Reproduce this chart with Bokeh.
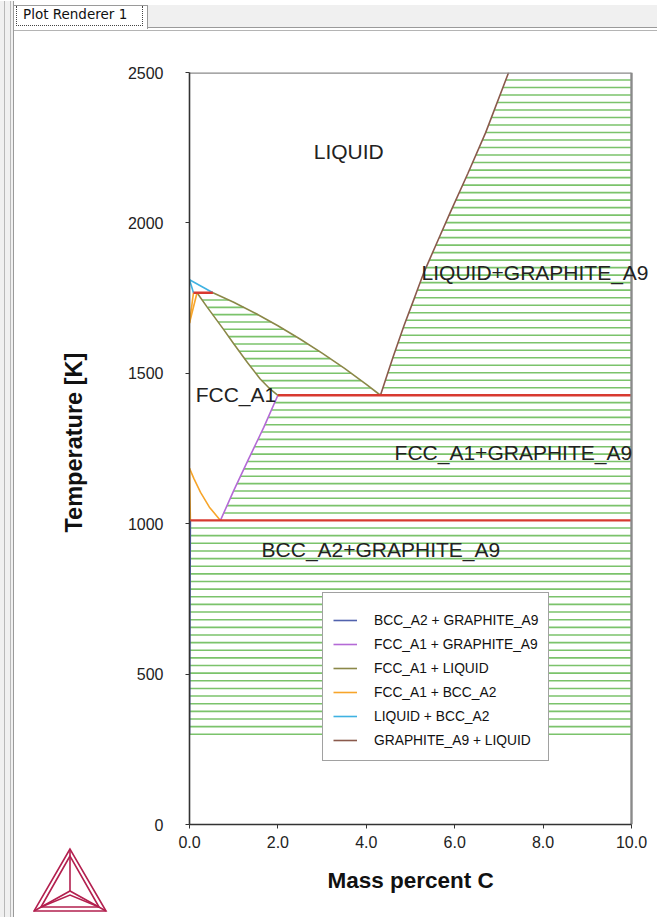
import numpy as np
from bokeh.plotting import figure
from bokeh.models import (Range1d, FixedTicker, PrintfTickFormatter, Label,
                          Legend, LegendItem, Div, Title)
from bokeh.layouts import column
from bokeh.embed import file_html
from bokeh.resources import INLINE

# ---------------- data (mass percent C, temperature in K) ----------------
x_ticks = [0, 2, 4, 6, 8, 10]
y_ticks = [0, 500, 1000, 1500, 2000, 2500]
x_min, x_max = 0, 10
T_axis_min, T_axis_max = 0, 2500

# FCC_A1 + LIQUID (liquidus and solidus)
fcc_liq_liquidus_x = [0.53, 1.0, 1.5, 2.0, 2.5, 3.0, 3.5, 4.0, 4.32]
fcc_liq_liquidus_T = [1768, 1736, 1699, 1658, 1614, 1567, 1517, 1463, 1427]
fcc_liq_solidus_x = [0.17, 0.4, 0.77, 1.0, 1.31, 1.6, 1.8, 2.0]
fcc_liq_solidus_T = [1768, 1720, 1646, 1598, 1536, 1481, 1451, 1427]
# GRAPHITE_A9 + LIQUID
gra_liq_x = [4.32, 4.6, 4.85, 5.1, 5.3, 5.6, 5.9, 6.3, 6.7, 7.22]
gra_liq_T = [1427, 1552, 1657, 1755, 1834, 1935, 2035, 2165, 2300, 2500]
# FCC_A1 + GRAPHITE_A9
fcc_gra_x = [0.70, 1.0, 1.33, 1.68, 2.0]
fcc_gra_T = [1011, 1110, 1213, 1320, 1427]
# BCC_A2 + GRAPHITE_A9
bcc_gra_x = [0.02, 0.01, 0.0]
bcc_gra_T = [1011, 700, 300]
# FCC_A1 + BCC_A2 (alpha/gamma and delta/gamma)
fcc_bcc_low_g_x = [0.0, 0.1, 0.25, 0.45, 0.70]
fcc_bcc_low_g_T = [1184, 1150, 1104, 1055, 1011]
fcc_bcc_low_a_x = [0.0, 0.01, 0.02]
fcc_bcc_low_a_T = [1184, 1100, 1011]
fcc_bcc_high_d_x = [0.0, 0.09]
fcc_bcc_high_d_T = [1667, 1768]
fcc_bcc_high_g_x = [0.0, 0.17]
fcc_bcc_high_g_T = [1667, 1768]
# LIQUID + BCC_A2
liq_bcc_l_x = [0.0, 0.53]
liq_bcc_l_T = [1811, 1768]
liq_bcc_d_x = [0.0, 0.09]
liq_bcc_d_T = [1811, 1768]
# invariant lines (peritectic, eutectic, eutectoid)
inv_x0 = [0.09, 2.0, 0.02]
inv_x1 = [0.53, 10.0, 10.0]
inv_T = [1768, 1427, 1011]
T_min = 300

legend_labels = ["BCC_A2 + GRAPHITE_A9", "FCC_A1 + GRAPHITE_A9", "FCC_A1 + LIQUID",
                 "FCC_A1 + BCC_A2", "LIQUID + BCC_A2", "GRAPHITE_A9 + LIQUID"]
region_labels = ["LIQUID", "LIQUID+GRAPHITE_A9", "FCC_A1", "FCC_A1+GRAPHITE_A9",
                 "BCC_A2+GRAPHITE_A9"]
region_x = [2.81, 5.25, 0.14, 4.64, 1.63]
region_T = [2237, 1835, 1430, 1237, 914]

# ---------------- styles ----------------
C_BLUE = "#5162ad"
C_PURPLE = "#b46ad6"
C_OLIVE = "#8b8848"
C_ORANGE = "#f7a52a"
C_CYAN = "#3fb2e2"
C_BROWN = "#8a5a4c"
C_RED = "#d83a30"
C_TIE = "#64b951"
C_FRAME = "#8a8a8a"
FONT = "Liberation Sans"
PX_PER_UNIT = 44.2          # frame scale in x (screen px per mass percent)
RIGHT_EXTRA = 21            # extra frame room right of x=10 (for the overflowing label)
FIG_W = 652


def bound(x, T):
    order = np.argsort(T)
    return lambda t: np.interp(t, np.asarray(T)[order], np.asarray(x)[order])


def tie_lines(levels, left, right):
    xs, ys = [], []
    for t in levels:
        xs.append([float(left(t)), float(right(t))])
        ys.append([float(t), float(t)])
    return xs, ys


right_edge = lambda t: float(x_max)
tx, ty = [], []
for lv, lf, rf in [
    (np.linspace(T_min, inv_T[2], 29)[:-1], bound(bcc_gra_x, bcc_gra_T), right_edge),
    (np.linspace(inv_T[2], inv_T[1], 18)[1:-1], bound(fcc_gra_x, fcc_gra_T), right_edge),
    (np.linspace(inv_T[1], T_axis_max, 44)[1:-1], bound(gra_liq_x, gra_liq_T), right_edge),
    (np.linspace(inv_T[1], inv_T[0], 15)[1:-1], bound(fcc_liq_solidus_x, fcc_liq_solidus_T),
     bound(fcc_liq_liquidus_x, fcc_liq_liquidus_T)),
]:
    a, b = tie_lines(lv, lf, rf)
    tx += a
    ty += b

# ---------------- figure ----------------
p = figure(width=FIG_W, height=874, output_backend="svg", toolbar_location=None,
           x_range=Range1d(x_min, x_max + RIGHT_EXTRA / PX_PER_UNIT),
           y_range=Range1d(T_axis_min, T_axis_max),
           min_border_left=189, min_border_right=0, min_border_top=36,
           min_border_bottom=86, background_fill_color="white",
           border_fill_color="white")
p.grid.visible = False
p.outline_line_color = None

p.multi_line(tx, ty, line_color=C_TIE, line_width=1.6, line_alpha=0.85)

r_blue = p.multi_line([bcc_gra_x], [bcc_gra_T], line_color=C_BLUE, line_width=1.6)
r_purple = p.multi_line([fcc_gra_x], [fcc_gra_T], line_color=C_PURPLE, line_width=1.6)
r_olive = p.multi_line([fcc_liq_liquidus_x, fcc_liq_solidus_x],
                       [fcc_liq_liquidus_T, fcc_liq_solidus_T], line_color=C_OLIVE, line_width=1.6)
r_orange = p.multi_line([fcc_bcc_low_g_x, fcc_bcc_low_a_x, fcc_bcc_high_d_x, fcc_bcc_high_g_x],
                        [fcc_bcc_low_g_T, fcc_bcc_low_a_T, fcc_bcc_high_d_T, fcc_bcc_high_g_T],
                        line_color=C_ORANGE, line_width=1.6)
r_cyan = p.multi_line([liq_bcc_l_x, liq_bcc_d_x], [liq_bcc_l_T, liq_bcc_d_T],
                      line_color=C_CYAN, line_width=1.6)
r_brown = p.multi_line([gra_liq_x], [gra_liq_T], line_color=C_BROWN, line_width=1.6)
p.segment(x0=inv_x0, y0=inv_T, x1=inv_x1, y1=inv_T, line_color=C_RED, line_width=2.4)

# plot box (top and right edges)
p.segment(x0=[x_min, x_max], y0=[T_axis_max, T_axis_min], x1=[x_max, x_max],
          y1=[T_axis_max, T_axis_max], line_color=C_FRAME, line_width=2.4)

# axes
p.xaxis.ticker = FixedTicker(ticks=x_ticks)
p.xaxis.formatter = PrintfTickFormatter(format="%.1f")
p.xaxis.bounds = (x_min, x_max)
p.yaxis.ticker = FixedTicker(ticks=y_ticks)
for ax in (p.xaxis, p.yaxis):
    ax.axis_line_color = "#333333"
    ax.axis_line_width = 1.6
    ax.major_tick_line_color = "#333333"
    ax.major_tick_out = 4
    ax.major_tick_in = 0
    ax.minor_tick_out = 0
    ax.minor_tick_in = 0
    ax.major_label_text_font = FONT
    ax.major_label_text_font_size = "16px"
    ax.major_label_text_color = "#222222"
p.xaxis.major_label_standoff = 7
p.yaxis.major_label_standoff = 22

# axis titles, placed as in the reference
p.add_layout(Title(text="Mass percent C", align="left", offset=138, standoff=31,
                   text_font=FONT, text_font_size="22.5px", text_font_style="bold",
                   text_color="#111111"), "below")
p.add_layout(Title(text="Temperature [K]", align="left", offset=292, standoff=76,
                   text_font=FONT, text_font_size="23.5px", text_font_style="bold",
                   text_color="#111111"), "left")

# region labels
for txt, xx, tt in zip(region_labels, region_x, region_T):
    p.add_layout(Label(x=xx, y=tt, text=txt, text_font=FONT, text_font_size="21px",
                       text_color="#222222", text_baseline="middle", text_align="left"))

# legend
items = [LegendItem(label=lab, renderers=[r]) for lab, r in
         zip(legend_labels, [r_blue, r_purple, r_olive, r_orange, r_cyan, r_brown])]
leg = Legend(items=items, location=(133, 63), title=" ", title_text_font_size="7px",
             title_standoff=0, border_line_color="#444444", border_line_width=1.5,
             background_fill_color="white", background_fill_alpha=1.0,
             label_text_font=FONT, label_text_font_size="13.8px", label_text_color="#111111",
             glyph_width=24, glyph_height=20, label_height=20, spacing=4, padding=10,
             label_standoff=17, margin=0)
p.add_layout(leg, "center")

# window header (tab), left window edge and logo
logo_svg = (
    '<svg style="position:absolute;left:28px;top:842px;" width="76" height="68">'
    '<g fill="none" stroke="#b3204f" stroke-width="1.6">'
    '<polygon points="37,2 1,64 73,64"/>'
    '<polygon points="37,9 8,60 66,60"/>'
    '<polyline points="37,2 37,44"/>'
    '<polyline points="1,64 37,44 73,64"/>'
    '<polyline points="8,60 37,48 66,60"/>'
    '</g></svg>'
)
left_edge = (
    '<div style="position:absolute;left:-5px;top:-4px;width:14px;height:917px;'
    'background:#f0f0f0;box-sizing:border-box;border-right:1px solid #9a9a9a;">'
    '<div style="position:absolute;left:4px;top:0;width:1px;height:917px;background:#b8b8b8;"></div>'
    '<div style="position:absolute;left:10px;top:0;width:1px;height:917px;background:#b8b8b8;"></div>'
    '</div>'
)
tab_html = (
    '<div style="position:relative;width:%dpx;height:26px;background:#f0f0f0;">' % FIG_W +
    '<div style="position:absolute;left:0;top:22px;width:%dpx;height:4px;background:#fff;' % FIG_W +
    'border-top:1px solid #9a9a9a;border-bottom:1px solid #b4b4b4;box-sizing:border-box;"></div>'
    + left_edge +
    '<div style="position:absolute;left:8px;top:0;width:135px;height:24px;background:#fff;'
    'border:1px solid #9a9a9a;border-bottom:none;box-sizing:border-box;">'
    '<div style="position:absolute;left:2px;top:0px;width:127px;height:20px;'
    'border:1px dotted #444;border-top:none;font-family:\'DejaVu Sans\';font-size:13.5px;'
    'line-height:17px;padding-left:6px;color:#111;box-sizing:border-box;">Plot Renderer 1</div>'
    '</div>' + logo_svg + '</div>'
)
header = Div(text=tab_html, width=FIG_W, height=26,
             styles={"overflow": "visible", "z-index": "10"})

layout = column(header, p, spacing=0)
open("out.html", "w").write(file_html(layout, INLINE))
